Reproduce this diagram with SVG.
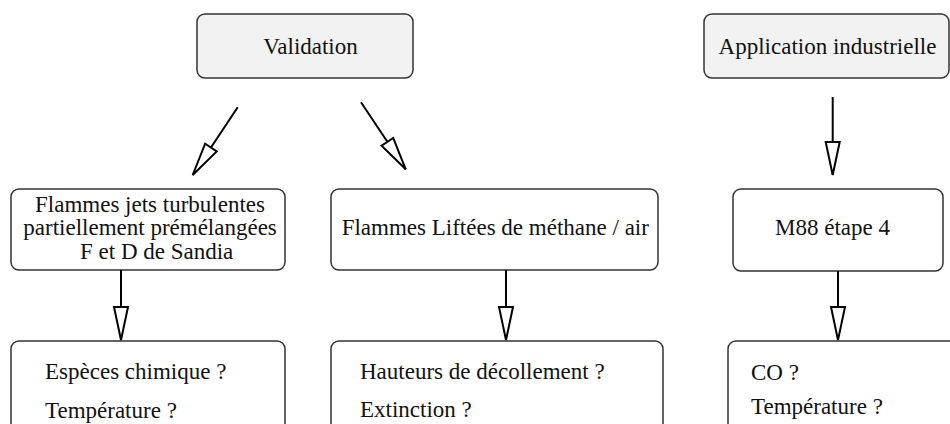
<svg xmlns="http://www.w3.org/2000/svg" width="950" height="424" viewBox="0 0 950 424">
<style>
.box{fill:#ffffff;stroke:#333333;stroke-width:1.5}
.hdr{fill:#f2f2f2;stroke:#333333;stroke-width:1.5}
.t{font-family:'Liberation Serif','Times New Roman','DejaVu Serif',serif;font-size:23px;fill:#111111}
.c{text-anchor:middle}
.conn line{stroke:#000000;stroke-width:2;marker-end:url(#arr)}
</style>
<defs>
<marker id="arr" markerUnits="userSpaceOnUse" viewBox="-2 -2 37 18" markerWidth="37" markerHeight="18" refX="33" refY="7" orient="auto">
<path d="M0,0 L33,7 L0,14 Z" fill="#ffffff" stroke="#000000" stroke-width="2" stroke-linejoin="miter"/>
</marker>
</defs>
<rect width="950" height="424" fill="#ffffff"/>
<g class="t" font-family="Liberation Serif, Times New Roman, DejaVu Serif, serif" font-size="23">
<g id="validation">
<rect class="hdr" x="197" y="14" width="216" height="64" rx="8"/>
<text x="310.5" y="54" class="c">Validation</text>
</g>
<g id="application">
<rect class="hdr" x="704" y="14" width="245" height="64" rx="8"/>
<text x="827.5" y="54" class="c">Application industrielle</text>
</g>
<g id="sandia">
<rect class="box" x="11" y="189" width="274" height="81" rx="8"/>
<text x="35" y="212">Flammes jets turbulentes</text>
<text x="23.3" y="235">partiellement prémélangées</text>
<text x="80" y="258.5">F et D de Sandia</text>
</g>
<g id="liftees">
<rect class="box" x="331" y="189" width="327" height="81" rx="8"/>
<text x="341.7" y="235">Flammes Liftées de méthane / air</text>
</g>
<g id="m88">
<rect class="box" x="733" y="189" width="210" height="82" rx="8"/>
<text x="775" y="235">M88 étape 4</text>
</g>
<g id="especes">
<rect class="box" x="11" y="341" width="274" height="100" rx="8"/>
<text x="45" y="379">Espèces chimique ?</text>
<text x="45" y="418">Température ?</text>
</g>
<g id="hauteurs">
<rect class="box" x="331" y="341" width="332" height="100" rx="8"/>
<text x="360" y="379">Hauteurs de décollement ?</text>
<text x="360" y="417">Extinction ?</text>
</g>
<g id="co">
<rect class="box" x="728" y="341" width="240" height="100" rx="8"/>
<text x="751" y="380">CO ?</text>
<text x="751" y="414">Température ?</text>
</g>
</g>
<g id="connectors" class="conn">
<line x1="237.7" y1="107.3" x2="192.7" y2="175"/>
<line x1="361" y1="102.3" x2="405.7" y2="169.3"/>
<line x1="832.7" y1="97" x2="832.7" y2="175"/>
<line x1="121" y1="270" x2="121" y2="340"/>
<line x1="506" y1="270" x2="506" y2="340"/>
<line x1="838" y1="271" x2="838" y2="340"/>
</g>
</svg>
